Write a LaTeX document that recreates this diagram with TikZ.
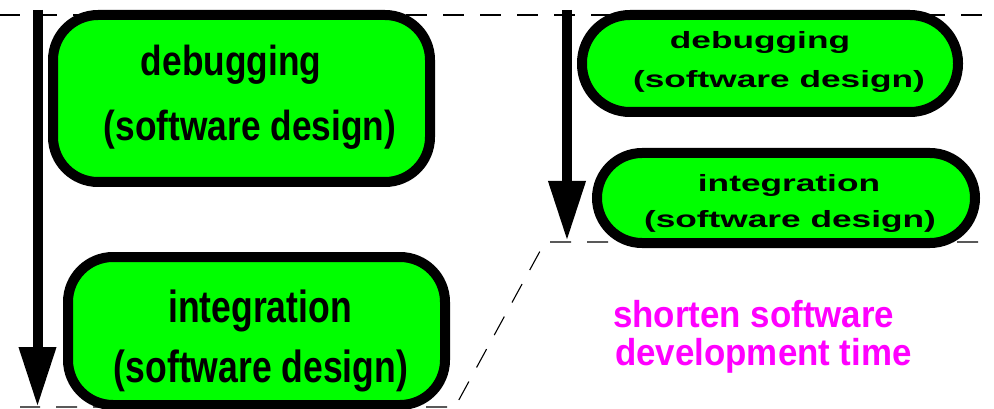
\documentclass[tikz,border=0pt]{standalone}
\usepackage{fontspec}
\usetikzlibrary{arrows.meta}
\newfontfamily\bigfa{Liberation Sans}[FakeStretch=0.84]
\newfontfamily\bigfb{Liberation Sans}[FakeStretch=0.79]
\newfontfamily\smallf{Liberation Sans}[FakeStretch=1.5]
\newfontfamily\noteff{Liberation Sans}[FakeStretch=0.93]
\definecolor{boxgreen}{RGB}{0,255,0}
\definecolor{notemag}{RGB}{255,0,255}
\tikzset{
  phasebox/.style={draw=black, line width=10pt, fill=boxgreen, inner sep=0pt},
  guide/.style={draw=black, line width=1.1pt, dash pattern=on 21pt off 16pt, dash phase=1pt},
  timearrow/.style={draw=black, line width=10pt, line cap=butt,
    -{Triangle[length=60pt,width=35pt]}},
  txt/.style={anchor=base, inner sep=0pt, text=black},
  lt/.style={txt, font=\bigfa\bfseries\fontsize{42}{42}\selectfont},
  lt2/.style={txt, font=\bigfb\bfseries\fontsize{45}{45}\selectfont},
  rt/.style={txt, font=\smallf\bfseries\fontsize{23.5}{23.5}\selectfont},
  note/.style={anchor=base west, inner sep=0pt, text=notemag,
    font=\noteff\bfseries\fontsize{37.5}{37.5}\selectfont}
}
\begin{document}
\begin{tikzpicture}[x=1pt,y=-1pt]
\useasboundingbox (0,0) rectangle (994,409);
% dashed guides
\coordinate (g1) at (0,15);
\coordinate (g2) at (994,15);
\coordinate (g3) at (20,407);
\coordinate (g4) at (455,407);
\coordinate (g5) at (545,242);
\coordinate (g6) at (994,242);
\draw[guide] (g1) -- (g2);
\draw[guide] (g3) -- (g4) -- (g5) -- (g6);
% boxes
\node[phasebox, rounded corners=45pt, minimum width=377pt, minimum height=167pt] (ldbg) at (241.5,98.5) {};
\node[phasebox, rounded corners=45pt, minimum width=377pt, minimum height=148pt] (lint) at (256.5,331) {};
\node[phasebox, rounded corners=48pt, minimum width=376pt, minimum height=97pt] (rdbg) at (770,63.5) {};
\node[phasebox, rounded corners=45pt, minimum width=378pt, minimum height=90pt] (rint) at (786,198) {};
% texts
\node[lt] (ldbg1) at (231,76) {debugging};
\node[lt] (ldbg2) at (250,141) {(software design)};
\node[lt2] (lint1) at (260,322) {integration};
\node[lt2] (lint2) at (261,382) {(software design)};
\node[rt] (rdbg1) at (760,49) {debugging};
\node[rt] (rdbg2) at (779,88) {(software design)};
\node[rt] (rint1) at (789,192) {integration};
\node[rt] (rint2) at (790,227) {(software design)};
\node[note] (note1) at (613,327) {shorten software};
\node[note] (note2) at (615,365) {development time};
% time arrows
\coordinate (la0) at (37.5,10);
\coordinate (la1) at (37.5,407);
\coordinate (ra0) at (567,10);
\coordinate (ra1) at (567,241);
\draw[timearrow] (la0) -- (la1);
\draw[timearrow] (ra0) -- (ra1);
\end{tikzpicture}
\end{document}
